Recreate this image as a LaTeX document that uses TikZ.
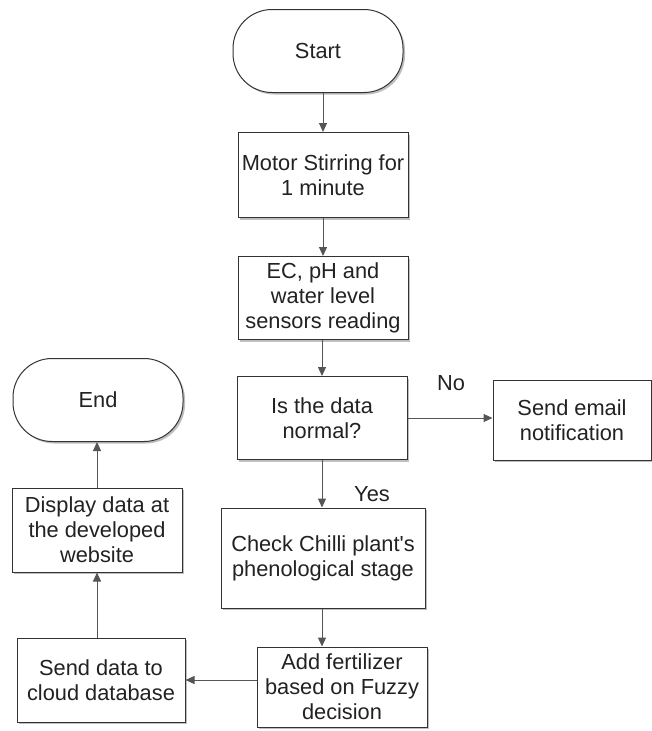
\documentclass[tikz,border=0pt]{standalone}
\usepackage{fontspec}
\setmainfont{Liberation Sans}[Ligatures=TeXOff]
\usetikzlibrary{shadows,arrows.meta}
\definecolor{linec}{HTML}{555555}
\definecolor{boxc}{HTML}{333333}
\definecolor{txtc}{HTML}{222222}
\tikzset{
  base/.style={draw=boxc, line width=1pt, fill=white, text=txtc, align=center,
    font=\fontsize{21.8}{25}\selectfont,
    drop shadow={shadow xshift=2pt, shadow yshift=-2pt, fill=black, opacity=0.25}},
  proc/.style={base, rectangle},
  term/.style={base, rectangle, rounded corners=39pt},
  conn/.style={draw=linec, line width=1pt, -{Triangle[length=9pt,width=8pt]}},
  lbl/.style={text=txtc, font=\fontsize{21.8}{25}\selectfont}
}
\begin{document}
\begin{tikzpicture}[x=1pt,y=-1pt]
\useasboundingbox (0,0) rectangle (652,731);
\node[term, minimum width=170pt, minimum height=83pt] (start) at (318,51) {Start};
\node[proc, minimum width=170pt, minimum height=85pt] (motor) at (323,175) {Motor Stirring for\\1 minute};
\node[proc, minimum width=170pt, minimum height=83pt] (sens) at (323,298) {EC, pH and\\water level\\sensors reading};
\node[proc, minimum width=170pt, minimum height=83pt] (dec) at (322,418) {Is the data\\normal?};
\node[proc, minimum width=158pt, minimum height=80pt] (mail) at (572,420) {Send email\\notification};
\node[proc, minimum width=204pt, minimum height=100pt] (chk) at (323,558) {Check Chilli plant's\\phenological stage};
\node[proc, minimum width=170pt, minimum height=80pt] (fert) at (342,687) {Add fertilizer\\based on Fuzzy\\decision};
\node[proc, minimum width=168pt, minimum height=84pt] (cloud) at (101,680) {Send data to\\cloud database};
\node[proc, minimum width=170pt, minimum height=84pt] (disp) at (97,530) {Display data at\\the developed\\website};
\node[term, minimum width=170pt, minimum height=83pt] (end) at (98,400) {End};

\draw[conn] (start.south -| motor.north) -- (motor.north);
\draw[conn] (motor) -- (sens);
\draw[conn] (sens.south -| dec.north) -- (dec.north);
\draw[conn] (dec.south) -- (dec.south |- chk.north);
\draw[conn] (dec.east) -- (dec.east -| mail.west);
\draw[conn] (dec.south |- chk.south) -- (dec.south |- fert.north);
\draw[conn] (fert.west |- cloud.east) -- (cloud.east);
\draw[conn] (cloud.north -| disp.north) -- (disp.south);
\draw[conn] (disp.north) -- (disp.north |- end.south);

\node[lbl] (no) at (451,383) {No};
\node[lbl] (yes) at (372,494) {Yes};
\end{tikzpicture}
\end{document}
